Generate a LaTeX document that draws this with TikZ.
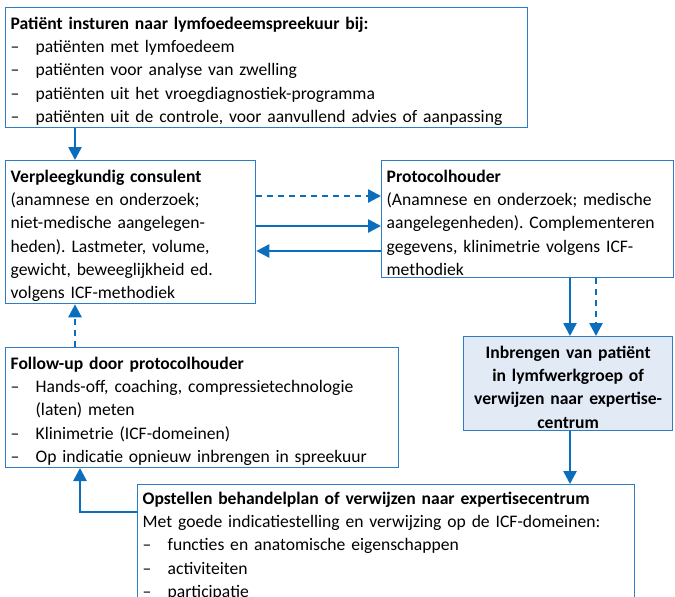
\documentclass[tikz,border=0pt]{standalone}
\usepackage{fontspec}
\setmainfont{Carlito}
\usetikzlibrary{arrows.meta}
\definecolor{boxblue}{HTML}{2E7CC4}
\definecolor{arrblue}{HTML}{0A6EBD}
\definecolor{fillblue}{HTML}{E2EAF6}
\newcommand{\fs}{\fontsize{17.6}{23.3}\selectfont\frenchspacing}
\newcommand{\itm}{\makebox[25pt][l]{–}}
\newcommand{\fst}{\rule{0pt}{19.5pt}}
\tikzset{
  box/.style={draw=boxblue, line width=1.3pt, anchor=north west, align=left,
    inner xsep=5pt, inner ysep=2pt, font=\fs},
  arr/.style={draw=arrblue, line width=2.6pt,
    -{Triangle[length=13pt,width=13pt]}},
  dsh/.style={dash pattern=on 6pt off 5pt}
}
\begin{document}
\begin{tikzpicture}[x=1pt,y=1pt]
\clip (0,0) rectangle (675,-597);
\fill[white] (0,0) rectangle (675,-597);

\node[box, minimum width=522pt, minimum height=119pt, text width=512pt] (top) at (5,-7)
{\fst\textbf{Patiënt insturen naar lymfoedeemspreekuur bij:}\\
\itm patiënten met lymfoedeem\\
\itm patiënten voor analyse van zwelling\\
\itm patiënten uit het vroegdiagnostiek-programma\\
\itm patiënten uit de controle, voor aanvullend advies of aanpassing};

\node[box, minimum width=250pt, minimum height=142pt, text width=240pt] (vk) at (5,-160)
{\fst\textbf{Verpleegkundig consulent}\\
(anamnese en onderzoek;\\
niet-medische aangelegen-\\
heden). Lastmeter, volume,\\
gewicht, beweeglijkheid ed.\\
volgens ICF-methodiek};

\node[box, minimum width=292pt, minimum height=117pt, text width=282pt] (ph) at (381,-160)
{\fst\textbf{Protocolhouder}\\
(Anamnese en onderzoek; medische\\
aangelegenheden). Complementeren\\
gegevens, klinimetrie volgens ICF-\\
methodiek};

\node[box, fill=fillblue, align=center, minimum width=209pt, minimum height=92pt, text width=199pt] (inb) at (463,-336)
{\fst\textbf{Inbrengen van patiënt}\\
\textbf{in lymfwerkgroep of}\\
\textbf{verwijzen naar expertise-}\\
\textbf{centrum}};

\node[box, minimum width=393pt, minimum height=118pt, text width=383pt] (fu) at (5,-347)
{\fst\textbf{Follow-up door protocolhouder}\\
\itm Hands-off, coaching, compressietechnologie\\
\hspace*{25pt}(laten) meten\\
\itm Klinimetrie (ICF-domeinen)\\
\itm Op indicatie opnieuw inbrengen in spreekuur};

\node[box, minimum width=497pt, minimum height=100pt, text width=487pt] (op) at (137,-484)
{\rule{0pt}{17.5pt}\textbf{Opstellen behandelplan of verwijzen naar expertisecentrum}\\
Met goede indicatiestelling en verwijzing op de ICF-domeinen:\\
\itm functies en anatomische eigenschappen\\
\itm activiteiten\\
\itm participatie\\[30pt]};

\coordinate (xa) at (75,0);
\coordinate (xb) at (80,0);
\coordinate (xs) at (570,0);
\coordinate (xd) at (596,0);
\coordinate (ya) at (0,-196);
\coordinate (yb) at (0,-226);
\coordinate (yc) at (0,-251);
\coordinate (yo) at (0,-512);

\draw[arr] (top.south -| xa) -- (vk.north -| xa);
\draw[arr,dsh] (vk.east |- ya) -- (ph.west |- ya);
\draw[arr] (vk.east |- yb) -- (ph.west |- yb);
\draw[arr] (ph.west |- yc) -- (vk.east |- yc);
\draw[arr] (ph.south -| xs) -- (inb.north -| xs);
\draw[arr,dsh] (ph.south -| xd) -- (inb.north -| xd);
\draw[arr] (inb.south -| xs) -- (op.north -| xs);
\draw[arr,dsh] (fu.north -| xa) -- (vk.south -| xa);
\draw[arr] (op.west |- yo) -| (fu.south -| xb);
\end{tikzpicture}
\end{document}
